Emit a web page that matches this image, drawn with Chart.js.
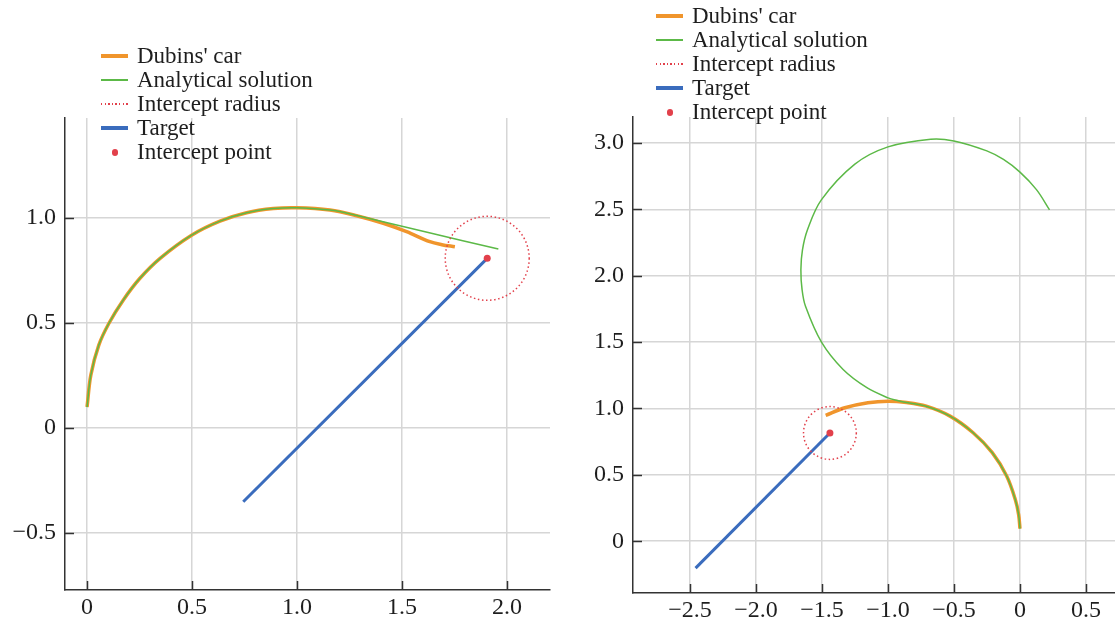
<!DOCTYPE html>
<html>
<head>
<meta charset="utf-8">
<script src="https://cdn.jsdelivr.net/npm/chart.js@4.4.1/dist/chart.umd.min.js"></script>
<style>
  html, body { margin: 0; padding: 0; background: #fff; }
  #wrap { position: relative; width: 1115px; height: 626px; overflow: hidden; }
  canvas { position: absolute; top: 0; }
  .legend { position: absolute; z-index: 2; font-family: "Liberation Serif", "DejaVu Serif", serif; font-size: 23px; color: #1e1e1e; }
  .legend .row { display: flex; align-items: center; height: 24px; line-height: 24px; white-space: nowrap; }
  .legend .key { width: 27px; margin-right: 9px; position: relative; height: 24px; flex: none; }
  .legend .key span { position: absolute; left: 0; right: 0; top: 12px; }
</style>
</head>
<body>
<div id="wrap">
  <canvas id="leftCanvas" width="557" height="626" style="left:0"></canvas>
  <canvas id="rightCanvas" width="562" height="626" style="left:557px"></canvas>
  <div class="legend" id="leftLegend" style="left:101px; top:44px"></div>
  <div class="legend" id="rightLegend" style="left:656px; top:4px"></div>
</div>
<script>
// series names, same for both panels
var seriesLabels = ["Dubins' car", "Analytical solution", "Intercept radius", "Target", "Intercept point"];

// left panel
var carLeftX = [0, 0.018, 0.056, 0.105, 0.173, 0.252, 0.348, 0.498, 0.633, 0.760, 0.887, 0.999, 1.157, 1.284, 1.411, 1.522, 1.633, 1.69, 1.752];
var carLeftY = [0.10, 0.252, 0.395, 0.50, 0.61, 0.713, 0.808, 0.918, 0.985, 1.025, 1.045, 1.049, 1.038, 1.011, 0.975, 0.935, 0.887, 0.873, 0.863];
var solLeftX = [0, 0.018, 0.056, 0.105, 0.173, 0.252, 0.348, 0.498, 0.633, 0.760, 0.887, 0.999, 1.157, 1.22, 1.62, 1.959];
var solLeftY = [0.10, 0.252, 0.395, 0.50, 0.61, 0.713, 0.808, 0.918, 0.985, 1.025, 1.045, 1.049, 1.038, 1.027, 0.932, 0.852];
var targetLeftX = [0.744, 1.906];
var targetLeftY = [-0.351, 0.808];
var hitLeft = [1.906, 0.808];
var reachLeft = 0.2;
var xTicksLeft = [0, 0.5, 1, 1.5, 2];
var yTicksLeft = [-0.5, 0, 0.5, 1];
var xRangeLeft = [-0.105, 2.205];
var yRangeLeft = [-0.771, 1.476];

// right panel
var carRightX = [0, -0.01, -0.036, -0.101, -0.21, -0.355, -0.53, -0.71, -0.86, -1.0, -1.152, -1.327, -1.472];
var carRightY = [0.095, 0.2, 0.316, 0.491, 0.667, 0.817, 0.942, 1.017, 1.045, 1.055, 1.043, 1.005, 0.947];
var solRightX = [0, -0.01, -0.036, -0.101, -0.21, -0.355, -0.53, -0.71, -0.86, -0.93, -1.0, -1.16, -1.34, -1.505, -1.625,
                 -1.651, -1.66, -1.648, -1.61, -1.505, -1.251, -1.0, -0.676, -0.501, -0.251, -0.125, 0, 0.125, 0.224];
var solRightY = [0.095, 0.2, 0.316, 0.491, 0.667, 0.817, 0.942, 1.017, 1.045, 1.06, 1.08, 1.156, 1.293, 1.501, 1.769,
                 1.895, 2.045, 2.195, 2.346, 2.571, 2.84, 2.97, 3.028, 3.015, 2.94, 2.875, 2.78, 2.648, 2.496];
var targetRightX = [-2.458, -1.44];
var targetRightY = [-0.203, 0.815];
var hitRight = [-1.44, 0.815];
var reachRight = 0.2;
var xTicksRight = [-2.5, -2, -1.5, -1, -0.5, 0, 0.5];
var yTicksRight = [0, 0.5, 1, 1.5, 2, 2.5, 3];
var xRangeRight = [-2.932, 0.72];
var yRangeRight = [-0.39, 3.195];

var ORANGE = "#f0952c";
var GREEN = "#5cb947";
var RED = "#e2404b";
var BLUE = "#3a6cbd";
var FONT = '"Liberation Serif", "DejaVu Serif", serif';

function zip(xs, ys) {
    return xs.map(function (v, i) { return { x: v, y: ys[i] }; });
}

function fmt(v) {
    if (v === 0) return "0";
    return v.toFixed(1).replace("-", "\u2212");
}

// dotted circle round the intercept point, radius in data units
var reachPlugin = {
    id: "reach",
    afterDatasetsDraw: function (chart, args, opts) {
        var ctx = chart.ctx, area = chart.chartArea;
        var xs = chart.scales.x, ys = chart.scales.y;
        var cx = xs.getPixelForValue(opts.center[0]);
        var cy = ys.getPixelForValue(opts.center[1]);
        var r = xs.getPixelForValue(opts.center[0] + opts.radius) - cx;
        ctx.save();
        ctx.beginPath();
        ctx.rect(area.left, area.top, area.right - area.left, area.bottom - area.top);
        ctx.clip();
        ctx.strokeStyle = RED;
        ctx.lineWidth = 1.5;
        ctx.setLineDash([1.5, 2.6]);
        ctx.beginPath();
        ctx.arc(cx, cy, r, 0, Math.PI * 2);
        ctx.stroke();
        ctx.restore();
    }
};

// short tick marks pointing into the plot
var innerTicks = {
    id: "innerTicks",
    afterDraw: function (chart) {
        var ctx = chart.ctx, area = chart.chartArea;
        var xs = chart.scales.x, ys = chart.scales.y;
        ctx.save();
        ctx.strokeStyle = "#333";
        ctx.lineWidth = 1.5;
        ctx.beginPath();
        xs.ticks.forEach(function (t) {
            var px = Math.round(xs.getPixelForValue(t.value)) + 0.5;
            ctx.moveTo(px, area.bottom);
            ctx.lineTo(px, area.bottom - 9);
        });
        ys.ticks.forEach(function (t) {
            var py = Math.round(ys.getPixelForValue(t.value)) + 0.5;
            ctx.moveTo(area.left, py);
            ctx.lineTo(area.left + 9, py);
        });
        ctx.stroke();
        ctx.restore();
    }
};

function makePanel(id, p) {
    var axis = function (range, ticks) {
        return {
            type: "linear",
            min: range[0],
            max: range[1],
            afterBuildTicks: function (scale) {
                scale.ticks = ticks.map(function (v) { return { value: v }; });
            },
            grid: { color: "#d6d6d6", lineWidth: 1.5, drawTicks: false },
            border: { display: true, color: "#333", width: 1.5 },
            ticks: {
                color: "#1e1e1e",
                font: { family: FONT, size: 24 },
                autoSkip: false,
                maxRotation: 0,
                callback: function (v) { return fmt(v); }
            }
        };
    };
    var xAxis = axis(p.xRange, p.xTicks);
    xAxis.position = "bottom";
    xAxis.ticks.padding = 3;
    xAxis.afterFit = function (scale) { scale.height = p.xAxisH; };
    var yAxis = axis(p.yRange, p.yTicks);
    yAxis.position = "left";
    yAxis.ticks.padding = 9;
    yAxis.afterFit = function (scale) { scale.width = p.yAxisW; };

    return new Chart(document.getElementById(id), {
        type: "scatter",
        data: {
            datasets: [{
                label: seriesLabels[0],
                data: zip(p.carX, p.carY),
                showLine: true,
                borderColor: ORANGE,
                borderWidth: 3.5,
                pointRadius: 0,
                tension: 0.35,
                order: 4
            }, {
                label: seriesLabels[1],
                data: zip(p.solX, p.solY),
                showLine: true,
                borderColor: GREEN,
                borderWidth: 1.5,
                pointRadius: 0,
                tension: 0.35,
                order: 3
            }, {
                label: seriesLabels[3],
                data: zip(p.targetX, p.targetY),
                showLine: true,
                borderColor: BLUE,
                borderWidth: 3,
                pointRadius: 0,
                order: 2
            }, {
                label: seriesLabels[4],
                data: [{ x: p.hit[0], y: p.hit[1] }],
                showLine: false,
                pointRadius: 3.5,
                pointBorderWidth: 0,
                pointBackgroundColor: RED,
                order: 1
            }]
        },
        options: {
            responsive: false,
            animation: false,
            layout: { padding: p.pad },
            scales: { x: xAxis, y: yAxis },
            plugins: {
                legend: { display: false },
                tooltip: { enabled: false },
                reach: { center: p.hit, radius: p.reach }
            }
        },
        plugins: [reachPlugin, innerTicks]
    });
}

makePanel("leftCanvas", {
    carX: carLeftX, carY: carLeftY, solX: solLeftX, solY: solLeftY,
    targetX: targetLeftX, targetY: targetLeftY, hit: hitLeft, reach: reachLeft,
    xTicks: xTicksLeft, yTicks: yTicksLeft, xRange: xRangeLeft, yRange: yRangeLeft,
    pad: { top: 118, right: 7, left: 0, bottom: 0 }, yAxisW: 65, xAxisH: 36
});

// this canvas runs a few pixels past the page edge so the plot reaches it
makePanel("rightCanvas", {
    carX: carRightX, carY: carRightY, solX: solRightX, solY: solRightY,
    targetX: targetRightX, targetY: targetRightY, hit: hitRight, reach: reachRight,
    xTicks: xTicksRight, yTicks: yTicksRight, xRange: xRangeRight, yRange: yRangeRight,
    pad: { top: 117, right: 0, left: 0, bottom: 0 }, yAxisW: 76, xAxisH: 33
});

// legend boxes, one per panel
function buildLegend(id) {
    var keys = [
        "height:3.3px;margin-top:-1.6px;background:" + ORANGE,
        "height:2px;margin-top:-1px;background:" + GREEN,
        "height:1.6px;margin-top:-0.8px;background:repeating-linear-gradient(to right," + RED + " 0 1.5px,transparent 1.5px 3.6px)",
        "height:3.3px;margin-top:-1.6px;background:" + BLUE,
        "left:10.5px;right:auto;width:6.5px;height:6.5px;margin-top:-3px;border-radius:50%;background:" + RED
    ];
    var box = document.getElementById(id);
    seriesLabels.forEach(function (name, i) {
        var row = document.createElement("div");
        row.className = "row";
        var key = document.createElement("div");
        key.className = "key";
        var mark = document.createElement("span");
        mark.setAttribute("style", keys[i]);
        key.appendChild(mark);
        var text = document.createElement("div");
        text.textContent = name;
        row.appendChild(key);
        row.appendChild(text);
        box.appendChild(row);
    });
}
buildLegend("leftLegend");
buildLegend("rightLegend");
</script>
</body>
</html>
